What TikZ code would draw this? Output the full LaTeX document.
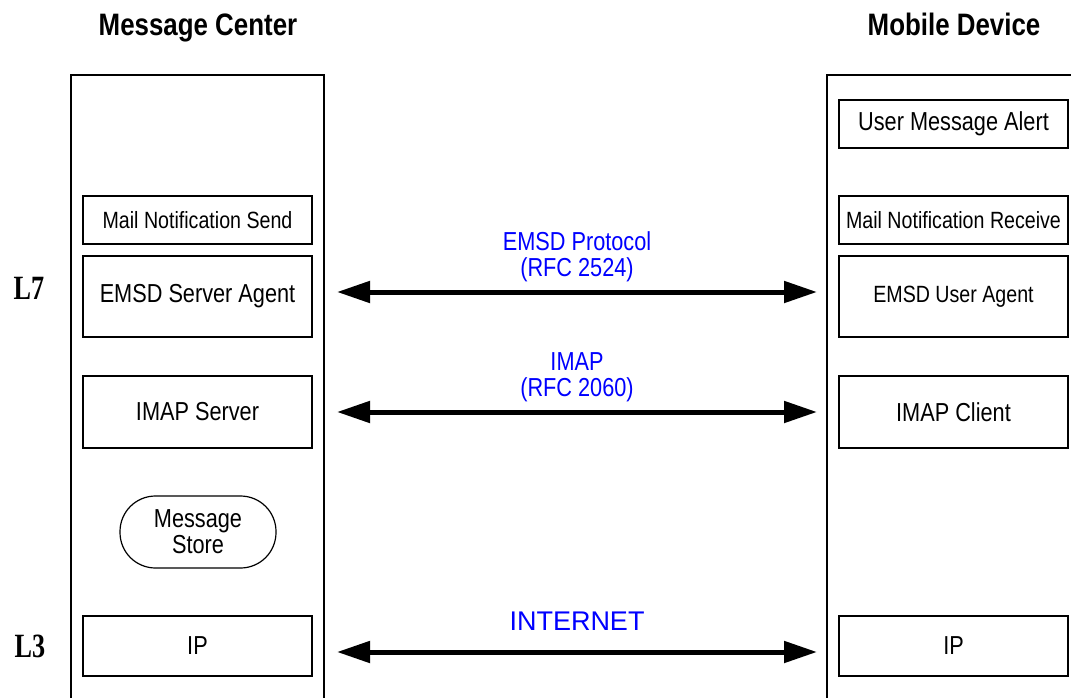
\documentclass[tikz,border=0pt]{standalone}
\usepackage{fontspec}
\setmainfont{Liberation Sans}[FakeStretch=0.835]
\newfontfamily\layerfont{Liberation Serif}[FakeStretch=0.77]
\newfontfamily\plainfont{Liberation Sans}
\usepackage{tikz}
\usetikzlibrary{arrows.meta}

\begin{document}
\begin{tikzpicture}[x=1pt, y=-1pt,
    column/.style={draw, line width=2pt, minimum height=635pt},
    layer/.style={draw, line width=1.2pt, minimum width=229pt},
    bigtext/.style={font=\fontsize{26}{26}\selectfont},
    smalltext/.style={font=\fontsize{23.5}{24}\selectfont},
    proto/.style={text=blue, align=center, inner sep=0pt, font=\fontsize{26}{26}\selectfont},
    link/.style={line width=5pt, {Triangle[length=33pt,width=21pt]}-{Triangle[length=33pt,width=21pt]}}]
    \useasboundingbox (0, 0) rectangle (1071, 698);

    % the two stacks
    \node[column, minimum width=253pt] (mc) at (197.5, 392.5) {};
    \node[column, minimum width=263pt] (md) at (958.5, 392.5) {};
    \node[anchor=base, font=\bfseries\fontsize{31}{31}\selectfont] (mctitle) at (198, 36) {Message Center};
    \node[anchor=base, font=\bfseries\fontsize{31}{31}\selectfont] (mdtitle) at (954, 36) {Mobile Device};
    \node[anchor=base, font=\layerfont\bfseries\fontsize{34}{34}\selectfont] (l7) at (29, 299) {L7};
    \node[anchor=base, font=\layerfont\bfseries\fontsize{34}{34}\selectfont] (l3) at (30, 657) {L3};

    % message center
    \node[layer, smalltext, minimum height=48pt] (mns) at (197.5, 220) {Mail Notification Send};
    \node[layer, bigtext, minimum height=81pt] (esa) at (197.5, 296.5) {EMSD Server Agent};
    \node[layer, bigtext, minimum height=72pt] (imaps) at (197.5, 412) {IMAP Server};
    \node[draw, line width=1.2pt, rounded corners=35.5pt, minimum width=156pt, minimum height=72pt,
        align=center, font=\fontsize{26}{26}\selectfont] (store) at (198, 532) {Message\\Store};
    \node[layer, bigtext, minimum height=60pt] (ipl) at (197.5, 646) {IP};

    % mobile device
    \node[layer, bigtext, minimum height=48pt] (uma) at (953.5, 124) {User Message Alert};
    \node[layer, smalltext, minimum height=48pt] (mnr) at (953.5, 220) {Mail Notification Receive};
    \node[layer, smalltext, minimum height=81pt] (eua) at (953.5, 296.5) {EMSD User Agent};
    \node[layer, bigtext, minimum height=72pt] (imapc) at (953.5, 412) {IMAP Client};
    \node[layer, bigtext, minimum height=60pt] (ipr) at (953.5, 646) {IP};

    % protocols
    \draw[link] ([xshift=12pt, yshift=4.5pt]mc.east |- esa.center) -- ([xshift=-9pt, yshift=4.5pt]md.west |- eua.center)
        node[midway, above=8pt, proto] {EMSD Protocol\\(RFC 2524)};
    \draw[link] ([xshift=12pt]mc.east |- imaps.center) -- ([xshift=-9pt]md.west |- imapc.center)
        node[midway, above=8pt, proto] {IMAP\\(RFC 2060)};
    \draw[link] ([xshift=12pt, yshift=-6pt]mc.east |- ipl.center) -- ([xshift=-9pt, yshift=-6pt]md.west |- ipr.center)
        node[midway, above=19pt, proto, font=\plainfont\fontsize{27}{27}\selectfont] {INTERNET};
\end{tikzpicture}
\end{document}
